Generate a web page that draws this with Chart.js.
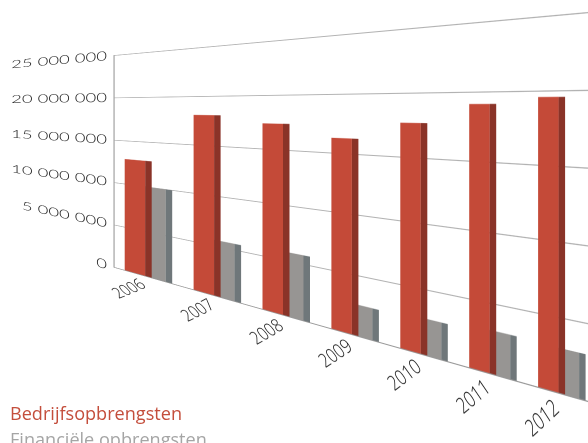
<!DOCTYPE html>
<html>
<head>
<meta charset="utf-8">
<style>
html,body{margin:0;padding:0;background:#fff;width:588px;height:443px;overflow:hidden;position:relative}
#c{position:absolute;left:0;top:0}
.lg{position:absolute;left:10px;font-family:"Open Sans",sans-serif;font-size:18.1px;line-height:24px;white-space:nowrap}
</style>
<script src="https://cdn.jsdelivr.net/npm/chart.js@4/dist/chart.umd.min.js"></script>
</head>
<body>
<canvas id="c" width="620" height="443"></canvas>
<div id="l0" class="lg" style="top:401px"></div>
<div id="l1" class="lg" style="top:427px"></div>
<script>
const years = ['2006','2007','2008','2009','2010','2011','2012'];
const bedrijfsopbrengsten = [12900000,18100000,17400000,16300000,17700000,19150000,19600000];
const financieleOpbrengsten = [10000000,5600000,5800000,2600000,2800000,3100000,3000000];
const seriesNames = ['Bedrijfsopbrengsten','Financiële opbrengsten'];
const frontColors = ['#c44a38','#979593'];
const sideColors = ['#8a3328','#6f777a'];
const gridColor = '#999999';
const textColor = '#222222';

const SIDE = 6.5, SHIFT = 3.25;
// picture-plane fan: gridline top edge and baseline as straight lines of x
const topLine = x => 55.5 - 0.0905 * (x - 114);
const baseLine = x => 267.3 + 0.283 * (x - 114);

const sidePlugin = {
  id: 'sideFaces',
  beforeDatasetsDraw(chart) { chart.ctx.save(); chart.ctx.translate(-SHIFT, 0); },
  afterDatasetDraw(chart, args) {
    const ctx = chart.ctx;
    ctx.save();
    ctx.fillStyle = sideColors[args.index];
    args.meta.data.forEach(el => {
      ctx.fillRect(el.x + el.width / 2, el.y, SIDE, el.base - el.y);
    });
    ctx.restore();
  },
  afterDatasetsDraw(chart) { chart.ctx.restore(); }
};

const warpPlugin = {
  id: 'fanWarp',
  afterDraw(chart) {
    const cv = chart.canvas, ctx = chart.ctx, dpr = chart.currentDevicePixelRatio;
    const tmp = document.createElement('canvas');
    tmp.width = cv.width; tmp.height = cv.height;
    tmp.getContext('2d').drawImage(cv, 0, 0);
    const a = chart.chartArea, srcH = cv.height;
    ctx.save();
    ctx.setTransform(1, 0, 0, 1, 0, 0);
    ctx.clearRect(0, 0, cv.width, cv.height);
    ctx.imageSmoothingEnabled = true;
    ctx.imageSmoothingQuality = 'high';
    for (let col = 0; col < cv.width; col++) {
      const x = (col + 0.5) / dpr;
      const T = topLine(x), B = baseLine(x);
      const s = (B - T) / (a.bottom - a.top);
      ctx.drawImage(tmp, col, 0, 1, srcH, col, (T - a.top * s) * dpr, 1, srcH * s);
    }
    ctx.restore();
  }
};

document.getElementById('l0').textContent = seriesNames[0];
document.getElementById('l0').style.color = '#c44e3c';
document.getElementById('l1').textContent = seriesNames[1];
document.getElementById('l1').style.color = '#a5a5a5';

new Chart(document.getElementById('c'), {
  type: 'bar',
  data: {
    labels: years,
    datasets: [
      { label: seriesNames[0], data: bedrijfsopbrengsten, backgroundColor: frontColors[0] },
      { label: seriesNames[1], data: financieleOpbrengsten, backgroundColor: frontColors[1] }
    ]
  },
  plugins: [sidePlugin, warpPlugin],
  options: {
    responsive: false,
    animation: false,
    devicePixelRatio: 2,
    layout: { padding: { top: 60, right: 23.7, left: 0, bottom: 0 } },
    plugins: { legend: { display: false }, tooltip: { enabled: false }, title: { display: false } },
    datasets: { bar: { categoryPercentage: 0.595, barPercentage: 1 } },
    scales: {
      x: {
        grid: { display: false, drawTicks: false },
        border: { display: true, color: gridColor, width: 0.9 },
        ticks: { minRotation: 45, maxRotation: 45, padding: 3, labelOffset: -5, color: '#111111', autoSkip: false,
                 font: { family: '"Open Sans"', size: 17.5, weight: 300 } },
        afterFit(s) { s.height = 83; }
      },
      y: {
        min: 0, max: 25000000,
        grid: { color: gridColor, lineWidth: 0.8, drawTicks: false },
        border: { display: true, color: gridColor, width: 1.1 },
        ticks: { stepSize: 5000000, padding: 7, color: textColor,
                 font: { family: 'Lato', size: 18.5, weight: 300 },
                 callback: v => String(v).replace(/\B(?=(\d{3})+$)/g, ' ') },
        afterFit(s) { s.width = 114; }
      }
    }
  }
});
</script>
</body>
</html>
